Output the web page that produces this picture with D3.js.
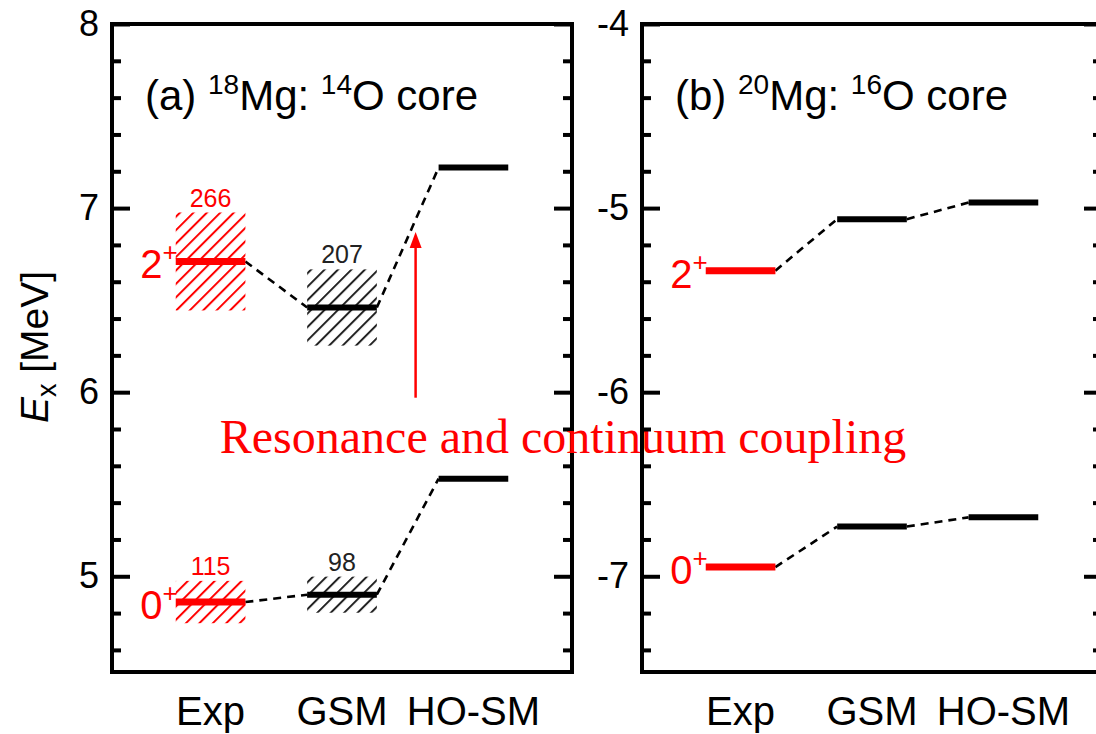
<!DOCTYPE html>
<html>
<head>
<meta charset="utf-8">
<script src="https://cdn.jsdelivr.net/npm/d3@7"></script>
<style>
  body { margin: 0; background: #fff; }
  svg { display: block; font-family: "Liberation Sans", Arial, sans-serif; }
</style>
</head>
<body>
<script>
// categories
var methods = ["Exp", "GSM", "HO-SM"];
var states = ["0", "2"];

// (a) 18Mg, excitation energies [MeV]
var mg18Exp = [4.86, 6.71];
var mg18GSM = [4.90, 6.46];
var mg18HO = [5.53, 7.22];
// widths [keV]
var mg18ExpWidth = [115, 266];
var mg18GSMWidth = [98, 207];

// (b) 20Mg
var mg20Exp = [-6.95, -5.34];
var mg20GSM = [-6.73, -5.06];
var mg20HO = [-6.68, -4.97];

var ticksA = [8, 7, 6, 5];
var ticksB = [-4, -5, -6, -7];

// annotation (panel a units)
var arrowX = 2.56, arrowFrom = 5.97, arrowTo = 6.87;
var noteText = "Resonance and continuum coupling";
var noteX = 1.07, noteY = 5.67;

var W = 1096, H = 734;
var panelW = 460, panelH = 648, panelTop = 24;
var red = "#ff0000";

var svg = d3.select("body").append("svg").attr("width", W).attr("height", H);

var defs = svg.append("defs");
[["hatchRed", red], ["hatchBlack", "#222"]].forEach(function(p){
  defs.append("pattern")
    .attr("id", p[0])
    .attr("patternUnits", "userSpaceOnUse")
    .attr("width", 9.5).attr("height", 9.5)
    .attr("patternTransform", "rotate(45)")
    .append("line")
      .attr("x1", 1).attr("y1", 0).attr("x2", 1).attr("y2", 9.5)
      .attr("stroke", p[1]).attr("stroke-width", 2);
});

function drawPanel(left, yDomain, majors, title, series) {
  var g = svg.append("g").attr("transform", "translate(" + left + "," + panelTop + ")");
  var x = d3.scaleLinear().domain([0.25, 3.75]).range([0, panelW]);
  var y = d3.scaleLinear().domain(yDomain).range([panelH, 0]);
  var half = 0.265;

  var minors = d3.range(Math.round(yDomain[0] * 5), Math.round(yDomain[1] * 5) + 1)
    .map(function(v){ return v / 5; })
    .filter(function(v){ return v >= yDomain[0] && v <= yDomain[1] && Math.abs(v - Math.round(v)) > 1e-6; });

  // minor ticks
  g.append("g").call(d3.axisLeft(y).tickValues(minors).tickSize(-9).tickFormat(""));
  g.append("g").attr("transform", "translate(" + panelW + ",0)")
    .call(d3.axisRight(y).tickValues(minors).tickSize(-9).tickFormat(""));
  // major ticks
  var ax = g.append("g").call(d3.axisLeft(y).tickValues(majors).tickSize(-18).tickPadding(13)
    .tickFormat(function(d){ return String(d); }));
  ax.selectAll("text").attr("font-size", 36).attr("fill", "#000").style("font-family", "Liberation Sans, Arial, sans-serif");
  g.append("g").attr("transform", "translate(" + panelW + ",0)")
    .call(d3.axisRight(y).tickValues(majors).tickSize(-18).tickFormat(""));
  g.selectAll(".domain").remove();
  g.selectAll(".tick line").attr("stroke", "#000").attr("stroke-width", 4);

  // frame
  g.append("rect").attr("width", panelW).attr("height", panelH)
    .attr("fill", "none").attr("stroke", "#000").attr("stroke-width", 4);

  // category labels
  g.selectAll(".cat").data(methods).enter().append("text")
    .attr("x", function(d, i){ return x(i + 1); })
    .attr("y", 701)
    .attr("text-anchor", "middle")
    .attr("font-size", 40)
    .text(function(d){ return d; });

  // title
  var t = g.append("text").attr("x", 33).attr("y", 86).attr("font-size", 42);
  t.append("tspan").text(title[0] + " ");
  t.append("tspan").attr("dy", -16).attr("font-size", 28).text(title[1]);
  t.append("tspan").attr("dy", 16).text(title[2] + " ");
  t.append("tspan").attr("dy", -16).attr("font-size", 28).text(title[3]);
  t.append("tspan").attr("dy", 16).text(title[4]);

  // widths as hatched boxes
  series.forEach(function(s, i){
    if (!s.width) return;
    s.values.forEach(function(v, k){
      var w = s.width[k] / 1000;
      g.append("rect")
        .attr("x", x(i + 1 - half)).attr("width", x(i + 1 + half) - x(i + 1 - half))
        .attr("y", y(v + w)).attr("height", y(v - w) - y(v + w))
        .attr("fill", "url(#" + (s.color === red ? "hatchRed" : "hatchBlack") + ")");
      g.append("text")
        .attr("x", x(i + 1)).attr("y", y(v + w) - 6)
        .attr("text-anchor", "middle").attr("font-size", 25)
        .attr("fill", s.color === red ? red : "#222")
        .text(s.width[k]);
    });
  });

  // dashed connectors
  states.forEach(function(st, k){
    for (var i = 0; i < series.length - 1; i++) {
      g.append("line")
        .attr("x1", x(i + 1 + half)).attr("y1", y(series[i].values[k]))
        .attr("x2", x(i + 2 - half)).attr("y2", y(series[i + 1].values[k]))
        .attr("stroke", "#000").attr("stroke-width", 2.6)
        .attr("stroke-dasharray", "8,6");
    }
  });

  // levels
  series.forEach(function(s, i){
    g.selectAll(null).data(s.values).enter().append("line")
      .attr("x1", x(i + 1 - half)).attr("x2", x(i + 1 + half))
      .attr("y1", function(d){ return y(d); }).attr("y2", function(d){ return y(d); })
      .attr("stroke", s.color).attr("stroke-width", s.color === red ? 7 : 6);
  });

  // state labels next to Exp
  series[0].values.forEach(function(v, k){
    var lab = g.append("text")
      .attr("x", x(1 - half) + 2).attr("y", y(v) + 17)
      .attr("text-anchor", "end").attr("font-size", 40).attr("fill", red);
    lab.append("tspan").text(states[k]);
    lab.append("tspan").attr("dy", -17).attr("font-size", 26).text("+");
  });

  return { g: g, x: x, y: y };
}

var pa = drawPanel(112, [4.48, 8], ticksA, ["(a)", "18", "Mg:", "14", "O core"], [
  { values: mg18Exp, width: mg18ExpWidth, color: red },
  { values: mg18GSM, width: mg18GSMWidth, color: "#000" },
  { values: mg18HO, color: "#000" }
]);

drawPanel(642, [-7.52, -4], ticksB, ["(b)", "20", "Mg:", "16", "O core"], [
  { values: mg20Exp, color: red },
  { values: mg20GSM, color: "#000" },
  { values: mg20HO, color: "#000" }
]);

// y label
var yl = svg.append("text")
  .attr("transform", "translate(48,347) rotate(-90)")
  .attr("text-anchor", "middle").attr("font-size", 39);
yl.append("tspan").attr("font-style", "italic").text("E");
yl.append("tspan").attr("dy", 8).attr("font-size", 27).text("x");
yl.append("tspan").attr("dy", -8).text(" [MeV]");

// annotation arrow + text
var ag = pa.g;
ag.append("line")
  .attr("x1", pa.x(arrowX)).attr("x2", pa.x(arrowX))
  .attr("y1", pa.y(arrowFrom)).attr("y2", pa.y(arrowTo) + 14)
  .attr("stroke", red).attr("stroke-width", 2.5);
ag.append("path")
  .attr("d", d3.line()([[pa.x(arrowX) - 6, pa.y(arrowTo) + 16], [pa.x(arrowX), pa.y(arrowTo)], [pa.x(arrowX) + 6, pa.y(arrowTo) + 16]]) + "Z")
  .attr("fill", red);
ag.append("text")
  .attr("x", pa.x(noteX)).attr("y", pa.y(noteY))
  .attr("font-family", "Liberation Serif, Times New Roman, serif")
  .attr("font-size", 48).attr("fill", red)
  .text(noteText);
</script>
</body>
</html>
